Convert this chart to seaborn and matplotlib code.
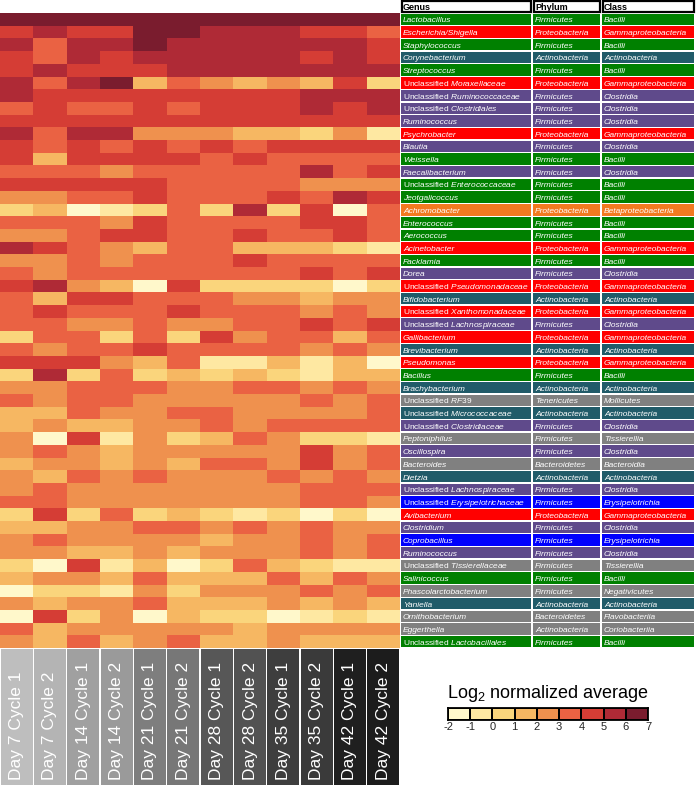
import numpy as np
import pandas as pd
import matplotlib
matplotlib.use("Agg")
import matplotlib.pyplot as plt
import seaborn as sns
from matplotlib.colors import ListedColormap
from matplotlib.patches import Rectangle

# ---------------- data ----------------
samples = ["Day 7 Cycle 1", "Day 7 Cycle 2", "Day 14 Cycle 1", "Day 14 Cycle 2",
           "Day 21 Cycle 1", "Day 21 Cycle 2", "Day 28 Cycle 1", "Day 28 Cycle 2",
           "Day 35 Cycle 1", "Day 35 Cycle 2", "Day 42 Cycle 1", "Day 42 Cycle 2"]

genus = ["Lactobacillus", "Escherichia/Shigella", "Staphylococcus", "Corynebacterium",
         "Streptococcus", "Unclassified Moraxellaceae", "Unclassified Ruminococcaceae",
         "Unclassified Clostridiales", "Ruminococcus", "Psychrobacter", "Blautia",
         "Weissella", "Faecalibacterium", "Unclassified Enterococcaceae", "Jeotgalicoccus",
         "Achromobacter", "Enterococcus", "Aerococcus", "Acinetobacter", "Facklamia",
         "Dorea", "Unclassified Pseudomonadaceae", "Bifidobacterium",
         "Unclassified Xanthomonadaceae", "Unclassified Lachnospiraceae", "Gallibacterium",
         "Brevibacterium", "Pseudomonas", "Bacillus", "Brachybacterium", "Unclassified RF39",
         "Unclassified Micrococcaceae", "Unclassified Clostridiaceae", "Peptoniphilus",
         "Oscillospira", "Bacteroides", "Dietzia", "Unclassified Lachnospiraceae",
         "Unclassified Erysipelotrichaceae", "Avibacterium", "Clostridium", "Coprobacillus",
         "Ruminococcus", "Unclassified Tissierellaceae", "Salinicoccus",
         "Phascolarctobacterium", "Yaniella", "Ornithobacterium", "Eggerthella",
         "Unclassified Lactobacillales"]

phylum = ["Firmicutes", "Proteobacteria", "Firmicutes", "Actinobacteria", "Firmicutes",
          "Proteobacteria", "Firmicutes", "Firmicutes", "Firmicutes", "Proteobacteria",
          "Firmicutes", "Firmicutes", "Firmicutes", "Firmicutes", "Firmicutes",
          "Proteobacteria", "Firmicutes", "Firmicutes", "Proteobacteria", "Firmicutes",
          "Firmicutes", "Proteobacteria", "Actinobacteria", "Proteobacteria", "Firmicutes",
          "Proteobacteria", "Actinobacteria", "Proteobacteria", "Firmicutes", "Actinobacteria",
          "Tenericutes", "Actinobacteria", "Firmicutes", "Firmicutes", "Firmicutes",
          "Bacteroidetes", "Actinobacteria", "Firmicutes", "Firmicutes", "Proteobacteria",
          "Firmicutes", "Firmicutes", "Firmicutes", "Firmicutes", "Firmicutes",
          "Firmicutes", "Actinobacteria", "Bacteroidetes", "Actinobacteria", "Firmicutes"]

klass = ["Bacilli", "Gammaproteobacteria", "Bacilli", "Actinobacteria", "Bacilli",
         "Gammaproteobacteria", "Clostridia", "Clostridia", "Clostridia", "Gammaproteobacteria",
         "Clostridia", "Bacilli", "Clostridia", "Bacilli", "Bacilli",
         "Betaproteobacteria", "Bacilli", "Bacilli", "Gammaproteobacteria", "Bacilli",
         "Clostridia", "Gammaproteobacteria", "Actinobacteria", "Gammaproteobacteria", "Clostridia",
         "Gammaproteobacteria", "Actinobacteria", "Gammaproteobacteria", "Bacilli", "Actinobacteria",
         "Mollicutes", "Actinobacteria", "Clostridia", "Tissierellia", "Clostridia",
         "Bacteroidia", "Actinobacteria", "Clostridia", "Erysipelotrichia", "Gammaproteobacteria",
         "Clostridia", "Erysipelotrichia", "Clostridia", "Tissierellia", "Bacilli",
         "Negativicutes", "Actinobacteria", "Flavobacteriia", "Coriobacteriia", "Bacilli"]

# log2 normalized average, lower edge of the colour bin read for each cell
levels = [
    [6, 6, 6, 6, 6, 6, 6, 6, 6, 6, 6, 6],
    [4, 5, 4, 4, 6, 6, 5, 5, 5, 4, 4, 3],
    [5, 3, 5, 5, 6, 5, 5, 5, 5, 5, 5, 4],
    [4, 3, 5, 4, 5, 5, 5, 5, 5, 4, 5, 4],
    [4, 5, 4, 4, 4, 5, 5, 5, 5, 5, 5, 5],
    [5, 3, 5, 6, 1, 3, 2, 1, 2, 1, 4, 0],
    [5, 4, 4, 4, 4, 4, 4, 4, 4, 5, 5, 5],
    [3, 4, 3, 3, 4, 3, 4, 4, 4, 5, 4, 5],
    [4, 4, 4, 4, 4, 4, 4, 4, 4, 4, 4, 4],
    [5, 3, 5, 5, 2, 2, 2, 1, 1, 0, 2, -1],
    [4, 3, 4, 3, 4, 3, 4, 3, 4, 4, 4, 4],
    [4, 1, 4, 4, 4, 4, 3, 4, 3, 3, 3, 3],
    [3, 3, 3, 2, 3, 3, 3, 3, 3, 5, 3, 4],
    [4, 4, 4, 4, 4, 3, 3, 3, 3, 2, 2, 2],
    [2, 2, 3, 3, 4, 3, 3, 3, 4, 3, 5, 4],
    [0, 1, -2, -1, 0, 3, 0, 5, 0, 4, -2, 3],
    [3, 3, 3, 2, 4, 3, 3, 3, 3, 4, 4, 3],
    [2, 2, 3, 4, 4, 3, 3, 4, 3, 3, 4, 3],
    [5, 4, 3, 2, 1, 3, 3, 1, 1, 1, 0, -1],
    [2, 2, 3, 2, 3, 3, 3, 4, 3, 3, 3, 3],
    [3, 2, 3, 3, 3, 3, 3, 3, 3, 4, 3, 4],
    [4, 5, 2, 1, -2, 4, 0, 0, 0, 0, -2, 0],
    [3, 1, 4, 4, 3, 3, 3, 2, 2, 1, 2, 2],
    [3, 4, 3, 3, 3, 4, 3, 3, 3, 2, 3, 2],
    [3, 3, 2, 2, 3, 2, 2, 3, 3, 4, 3, 4],
    [0, 3, 3, 0, 3, 0, 4, 2, 3, 3, 1, 3],
    [3, 2, 3, 3, 4, 3, 3, 3, 3, 2, 3, 2],
    [4, 4, 4, 2, 1, 3, -1, -1, 1, -1, 1, -2],
    [0, 5, 0, 3, 0, 1, 0, 1, 0, -1, 1, 1],
    [2, 2, 3, 3, 3, 2, 2, 3, 3, 2, 3, 2],
    [3, 2, 3, 3, 2, 2, 2, 2, 2, 3, 2, 3],
    [1, 1, 3, 2, 2, 3, 3, 2, 2, 2, 2, 3],
    [1, 2, 1, 1, 2, 2, 3, 2, 3, 3, 3, 3],
    [2, -2, 4, -1, 2, 0, 1, 3, 2, 0, 0, -1],
    [2, 3, 2, 1, 2, 2, 2, 2, 2, 4, 2, 3],
    [1, 2, 2, 1, 2, 1, 3, 3, 2, 4, 2, 3],
    [2, 1, 3, 2, 3, 2, 2, 2, 3, 2, 3, 2],
    [2, 3, 2, 2, 2, 2, 2, 2, 2, 3, 3, 3],
    [3, 3, 2, 2, 2, 2, 2, 2, 2, 3, 3, 2],
    [0, 4, 0, 3, 0, 1, 0, -1, 0, -2, 0, -2],
    [1, 1, 2, 2, 3, 3, 2, 3, 2, 3, 2, 2],
    [2, 3, 2, 2, 2, 2, 1, 2, 2, 3, 2, 3],
    [2, 2, 1, 1, 2, 1, 2, 2, 2, 3, 2, 3],
    [0, -2, 4, -1, 1, -2, 0, 3, 1, 0, -1, -1],
    [1, 2, 2, 1, 3, 1, 1, 1, 3, 1, 3, 2],
    [-2, 0, 0, -1, 2, 0, 2, 2, 2, 3, 2, 3],
    [2, 1, 2, 2, 3, 1, 1, 1, 2, 1, 2, 1],
    [-2, 4, 0, 2, -2, 1, 0, 0, -2, -1, 0, -1],
    [3, 1, 2, 2, 2, 2, 2, 1, 2, 2, 2, 2],
    [2, 1, 3, 1, 2, 3, 1, 1, 2, 1, 1, 1],
]

scale_ticks = [-2, -1, 0, 1, 2, 3, 4, 5, 6, 7]

# ---------------- styles ----------------
bin_colors = ["#FFF8CB", "#FEE8A2", "#FAD57C", "#F6B762", "#EF914E",
              "#EA6243", "#D53D35", "#AF2A36", "#7A1C2E"]
class_colors = {
    "Bacilli": "#008000", "Gammaproteobacteria": "#FF0000", "Actinobacteria": "#215B69",
    "Clostridia": "#5F4A8B", "Betaproteobacteria": "#F37A20", "Mollicutes": "#808080",
    "Tissierellia": "#808080", "Bacteroidia": "#808080", "Erysipelotrichia": "#0000FF",
    "Negativicutes": "#808080", "Flavobacteriia": "#808080", "Coriobacteriia": "#808080",
}
label_box_colors = ["#BEBEBE", "#B4B4B4", "#A0A0A0", "#9A9A9A", "#7E7E7E", "#777777",
                    "#575757", "#525252", "#3E3E3E", "#3A3A3A", "#1F1F1F", "#1C1C1C"]

sns.set_style("white")
plt.rcParams["font.family"] = ["Liberation Sans", "DejaVu Sans"]
plt.rcParams["mathtext.fontset"] = "custom"
plt.rcParams["mathtext.rm"] = "Liberation Sans"
plt.rcParams["mathtext.it"] = "Liberation Sans:italic"
plt.rcParams["mathtext.bf"] = "Liberation Sans:bold"

W, H = 696, 785
fig = plt.figure(figsize=(W / 100, H / 100), dpi=100)

hm_top, hm_bot, hm_right = 13, 648, 400
n_rows = len(genus)
row_px = (hm_bot - hm_top) / n_rows

# ---------------- heatmap ----------------
ax = fig.add_axes([0, (H - hm_bot) / H, hm_right / W, (hm_bot - hm_top) / H])
df = pd.DataFrame(np.array(levels, dtype=float) + 0.5, columns=samples)
cmap = ListedColormap(bin_colors)
sns.heatmap(df, ax=ax, cmap=cmap, vmin=scale_ticks[0], vmax=scale_ticks[-1],
            cbar=False, xticklabels=False, yticklabels=False)
ax.set_xlabel("")
ax.set_ylabel("")

# ---------------- table ----------------
tx = fig.add_axes([hm_right / W, (H - hm_bot) / H, (W - hm_right) / W, hm_bot / H])
tx.set_xlim(hm_right, W)
tx.set_ylim(n_rows, -hm_top / row_px)
tx.axis("off")
cols = [(401, 531), (533, 600), (602, 694)]
headers = ["Genus", "Phylum", "Class"]
head_top = -hm_top / row_px
for (x0, x1), h in zip(cols, headers):
    tx.add_patch(Rectangle((x0 + 0.5, head_top + 0.1), x1 - x0 - 1, -head_top - 0.2,
                           facecolor="white", edgecolor="black", linewidth=1.6))
    tx.text(x0 + 2, head_top + 0.8, h, fontsize=6.5, fontweight="bold",
            va="baseline", ha="left", color="black")

def genus_label(g):
    if g.startswith("Unclassified "):
        rest = g[len("Unclassified "):]
        return r"$\mathrm{Unclassified}\ \mathit{" + rest + "}$", "normal"
    return g, "italic"

for i in range(n_rows):
    col = class_colors[klass[i]]
    texts = [genus_label(genus[i]), (phylum[i], "italic"), (klass[i], "italic")]
    for (x0, x1), (t, st) in zip(cols, texts):
        tx.add_patch(Rectangle((x0, i + 0.05), x1 - x0, 0.9, facecolor=col,
                               edgecolor="none"))
        tx.text(x0 + 2, i + 0.74, t, fontsize=6, fontstyle=st, color="white",
                va="baseline", ha="left")

# ---------------- column label boxes ----------------
lx = fig.add_axes([0, 0, hm_right / W, (H - hm_bot - 1) / H])
lx.set_xlim(0, len(samples))
lx.set_ylim(0, 1)
lx.axis("off")
for j, (s, c) in enumerate(zip(samples, label_box_colors)):
    lx.add_patch(Rectangle((j + 0.02, 0), 0.96, 1, facecolor=c, edgecolor="none"))
    lx.text(j + 0.5, 5 / (H - hm_bot - 1), s, rotation=90, ha="center", va="bottom",
            fontsize=12.5, color="white")

# ---------------- colour scale ----------------
fig.text(548 / W, 1 - 693 / H, r"Log$_2$ normalized average", ha="center", va="center",
         fontsize=13, color="black")
cx = fig.add_axes([448 / W, 1 - 719.5 / H, 200 / W, 11.5 / H])
scale = pd.DataFrame([[t + 0.5 for t in scale_ticks[:-1]]])
sns.heatmap(scale, ax=cx, cmap=cmap, vmin=scale_ticks[0], vmax=scale_ticks[-1],
            cbar=False, linewidths=1.3, linecolor="black", yticklabels=False)
for sp in cx.spines.values():
    sp.set_visible(True)
    sp.set_linewidth(1.3)
    sp.set_color("black")
cx.set_xticks(np.arange(len(scale_ticks)))
cx.set_xticklabels([str(t) for t in scale_ticks], fontsize=8, rotation=0)
cx.tick_params(axis="x", length=0, pad=2)
cx.set_xlabel("")
cx.set_ylabel("")

fig.savefig("out.png", dpi=100)
